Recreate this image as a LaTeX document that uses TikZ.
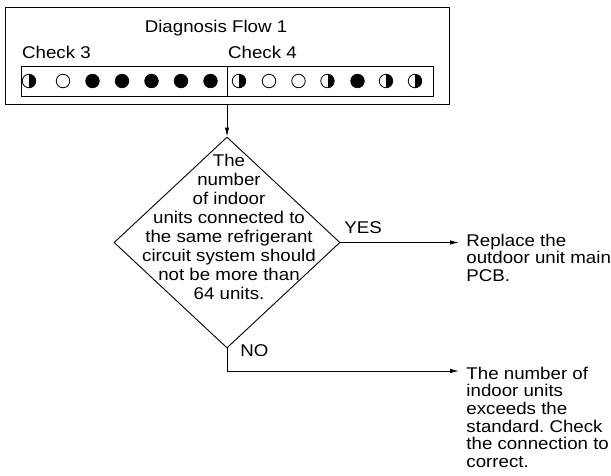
\documentclass[tikz,border=0pt]{standalone}
\usepackage{fontspec}
\setmainfont{Liberation Sans}[FakeStretch=1.1]
\usetikzlibrary{arrows.meta,positioning,shapes.geometric}
\frenchspacing

\begin{document}
\begin{tikzpicture}[x=1pt, y=-1pt, line width=0.9pt,
    font=\fontsize{17}{18}\selectfont,
    lamp/.style={draw, circle, minimum size=13.5pt, inner sep=0pt, line width=0.8pt},
    lampoff/.style={lamp},
    lampon/.style={lamp, fill=black},
    lamphalf/.style={lamp, path picture={\fill[black] (path picture bounding box.north) rectangle (path picture bounding box.south east);}},
    action/.style={anchor=north west, align=left, inner xsep=7pt, inner ysep=0pt, font=\fontsize{17}{17.6}\selectfont},
    flowarrow/.style={-{Latex[length=9pt,width=4.5pt]}}]
    \useasboundingbox (0,0) rectangle (611,475);

    % Diagnosis flow box
    \node[draw, rectangle, minimum width=444pt, minimum height=97pt, inner sep=0pt] (flow) at (227,55.5) {};
    \node[anchor=base] (title) at (216,32.3) {Diagnosis Flow 1};
    \node[anchor=base west, inner sep=0pt] (check3) at (21.7,58.3) {Check 3};
    \node[anchor=base west, inner sep=0pt] (check4) at (227.7,58.3) {Check 4};
    \node[draw, rectangle, minimum width=206pt, minimum height=30.5pt, inner sep=0pt] (bar3) at (124,81.25) {};
    \node[draw, rectangle, minimum width=206pt, minimum height=30.5pt, inner sep=0pt, right=0pt of bar3] (bar4) {};

    % Check 3 lamps
    \node[lamphalf] (l31) at (29,81) {};
    \node[lampoff] (l32) at (63,81) {};
    \node[lampon] (l33) at (92.5,81) {};
    \node[lampon] (l34) at (122,81) {};
    \node[lampon] (l35) at (151.5,81) {};
    \node[lampon] (l36) at (181,81) {};
    \node[lampon] (l37) at (210.5,81) {};

    % Check 4 lamps
    \node[lamphalf] (l41) at (239,81) {};
    \node[lampoff] (l42) at (269,81) {};
    \node[lampoff] (l43) at (298.5,81) {};
    \node[lamphalf] (l44) at (327.5,81) {};
    \node[lampon] (l45) at (357.5,81) {};
    \node[lamphalf] (l46) at (386,81) {};
    \node[lamphalf] (l47) at (415,81) {};

    % Decision
    \node[draw, diamond, minimum width=226pt, minimum height=211pt, inner sep=0pt] (check) at (227,242.5) {};
    \node[align=center, inner sep=0pt, font=\fontsize{17}{19}\selectfont] (question) at (229,227) {The\\number\\of indoor\\units connected to\\the same refrigerant\\circuit system should\\not be more than\\64 units.};

    % Results
    \node[action] (replace) at (459,233.5) {Replace the\\outdoor unit main\\PCB.};
    \node[action] (exceed) at (459,366.5) {The number of\\indoor units\\exceeds the\\standard. Check\\the connection to\\correct.};

    % Arrows
    \draw[flowarrow] (flow.south) -- (check.north);
    \draw[flowarrow] (check.east) -- node[pos=0, anchor=base west, xshift=3.5pt, yshift=9pt, inner sep=0pt] {YES} (check.east -| replace.west);
    \draw[flowarrow] (check.south) |- node[pos=0, anchor=base west, xshift=13pt, yshift=-7.7pt, inner sep=0pt] {NO} ([yshift=-4.5pt]exceed.north west);
\end{tikzpicture}
\end{document}
